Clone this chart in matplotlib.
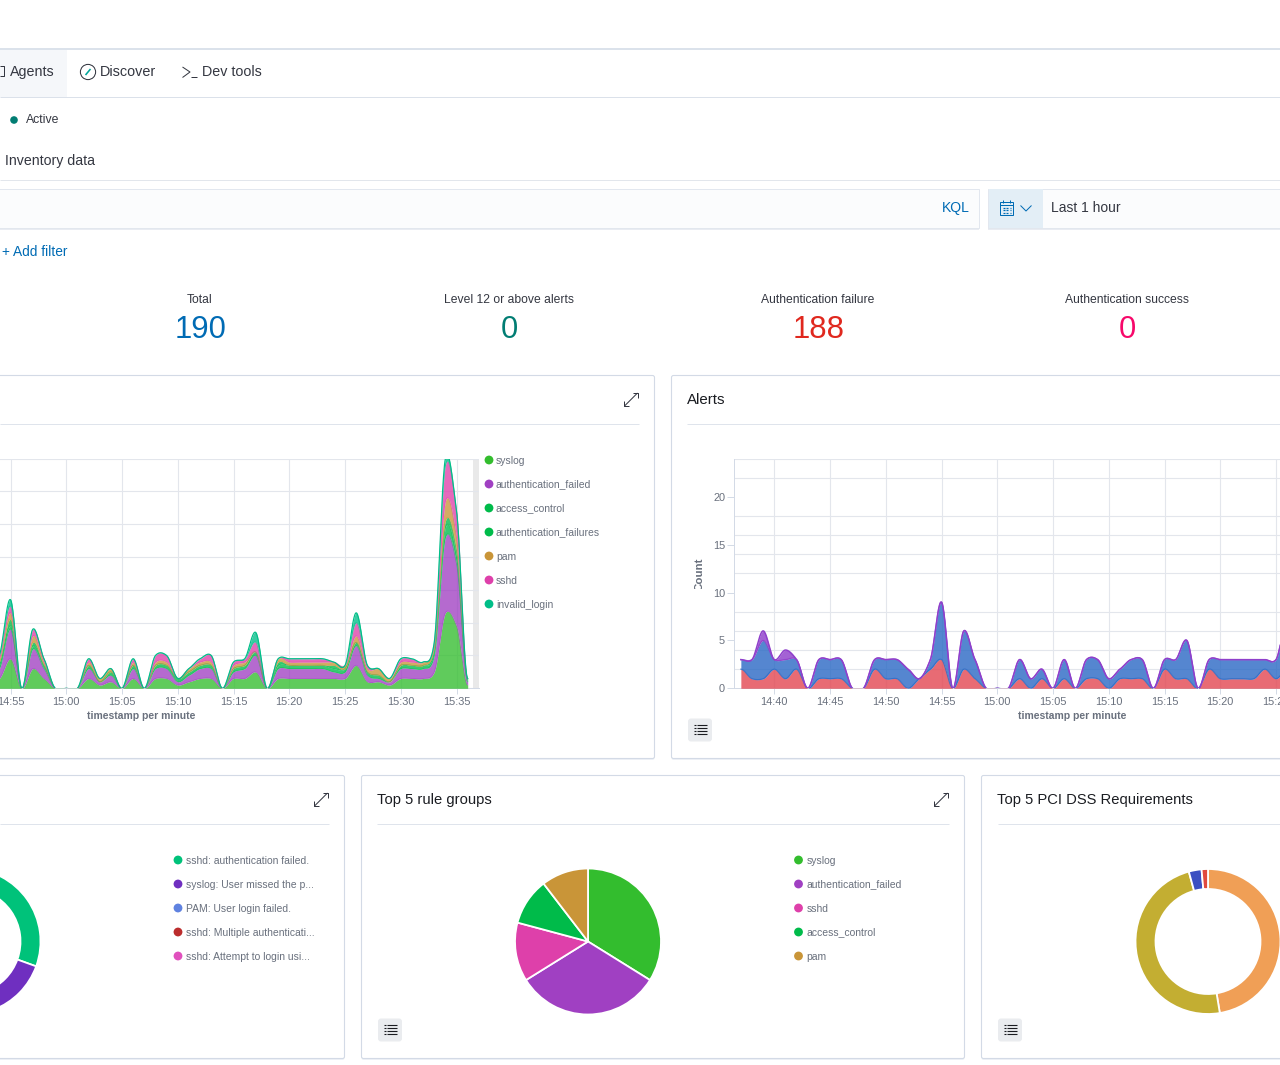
#!/usr/bin/env python3
import numpy as np
import matplotlib
matplotlib.use("Agg")
import matplotlib.pyplot as plt
from matplotlib.patches import Rectangle, Circle, FancyBboxPatch

plt.rcParams["font.family"] = ["Liberation Sans", "DejaVu Sans"]

W, H = 1280, 1065

# rule groups per minute, 14:53 .. 15:36
groups_min = list(range(-7, 37))
syslog = [1,3,9,0,6,3,0,0,0,3,1,2,0,3,0,3,3,1,2,3,3,0,3,3,5,0,3,3,3,3,3,3,3,7,2,2,1,3,3,3,5,23,19,1]
auth_failed = [1,3,9,0,6,3,0,0,0,3,1,2,0,3,0,3,3,1,2,3,3,0,2,3,5,0,3,3,3,3,3,2,2,6,2,1,1,3,3,3,5,23,19,1]
access_control = [1,1,1,0,1,1,0,0,0,1,0,1,0,1,0,1,1,1,1,1,1,0,1,1,1,0,1,1,1,1,1,1,1,1,1,1,0,1,1,1,1,3,2,1]
auth_failures = [0,1,2,0,1,0,0,0,0,0,0,0,0,0,0,0,0,0,0,0,0,0,0,0,0,0,1,0,0,0,0,1,0,0,0,0,0,0,0,0,1,2,2,0]
pam = [0,1,2,0,2,1,0,0,0,1,1,1,0,1,0,1,1,0,1,1,1,0,1,1,0,0,1,1,1,1,1,1,1,2,1,2,1,1,1,1,1,6,4,0]
sshd = [0,1,2,0,2,1,0,0,0,1,0,0,0,1,0,2,2,0,0,1,2,0,1,1,3,0,0,1,1,1,1,0,0,4,1,0,0,1,1,0,1,11,8,0]
invalid_login = [0,0,2,0,0,0,0,0,0,0,0,0,0,0,0,0,0,0,0,0,0,0,0,0,3,0,0,0,0,0,0,0,0,3,0,0,0,0,0,0,0,2,0,0]
group_names = ["syslog", "authentication_failed", "access_control", "authentication_failures",
               "pam", "sshd", "invalid_login"]
group_colors = ["#33bd2e", "#a040c2", "#00bb4a", "#00bb4a", "#c99538", "#de40aa", "#00be88"]

# alerts per minute, 14:37 .. 15:26
alerts_min = list(range(-23, 27))
alerts_red = [2,1,1,2,1,2,0,1,1,1,0,0,2,1,1,0,1,2,3,0,2,1,0,0,0,1,0,1,0,1,0,1,1,0,1,1,1,0,2,1,1,0,2,1,1,1,1,2,1,2]
alerts_blue = [1,2,4,1,2,1,0,2,2,2,0,0,1,2,2,2,0,1,6,0,4,2,0,0,0,2,1,1,0,2,0,2,2,1,1,2,2,0,1,2,4,0,1,2,2,2,2,1,2,5]
alerts_purple = [0,0,1,0,1,0,0,0,0,0,0,0,0,0,0,0,0,0,0,0,0,0,0,0,0,0,0,0,0,0,0,0,0,0,0,0,0,0,0,0,0,0,0,0,0,0,0,0,0,0]
alert_colors = ["#e34a55", "#2f6cc6", "#8f3fcb"]

tick_min = [-5, 0, 5, 10, 15, 20, 25, 30, 35]
tick_lab = ["14:55", "15:00", "15:05", "15:10", "15:15", "15:20", "15:25", "15:30", "15:35"]
tick_min_r = [-20, -15, -10, -5, 0, 5, 10, 15, 20, 25]
tick_lab_r = ["14:40", "14:45", "14:50", "14:55", "15:00", "15:05", "15:10", "15:15", "15:20", "15:25"]

rule_groups = [65, 62, 25, 20, 20]
rule_group_names = ["syslog", "authentication_failed", "sshd", "access_control", "pam"]
rule_group_colors = ["#33bd2e", "#a040c2", "#de40aa", "#00bb4a", "#c99538"]

top_rules = [58, 52, 40, 25, 15]
top_rule_names = ["sshd: authentication failed.", "syslog: User missed the p...", "PAM: User login failed.",
                  "sshd: Multiple authenticati...", "sshd: Attempt to login usi..."]
top_rule_colors = ["#00c27a", "#6f2fc0", "#5f82e0", "#bb2d2d", "#e050bd"]

pci_reqs = [100, 102, 6, 3]
pci_colors = ["#f09f56", "#c3ae32", "#3b4fc2", "#e04a3f"]

stat_labels = ["Total", "Level 12 or above alerts", "Authentication failure", "Authentication success"]
stat_values = ["190", "0", "188", "0"]
stat_colors = ["#006bb4", "#017d73", "#e0281e", "#f7086a"]
stat_x = [199.5, 508.5, 817.5, 1126.5]

BORDER = "#d3dae6"
TEXT = "#343741"
LINK = "#006bb4"
MUTED = "#69707d"
GRID = "#e3e6ec"

fig = plt.figure(figsize=(W / 100, H / 100), dpi=100, facecolor="white")
bg = fig.add_axes([0, 0, 1, 1], zorder=0)
bg.set_xlim(0, W)
bg.set_ylim(H, 0)
bg.axis("off")


def px_axes(x0, y0, x1, y1, zorder=2):
    ax = fig.add_axes([x0 / W, 1 - y1 / H, (x1 - x0) / W, (y1 - y0) / H], zorder=zorder)
    ax.patch.set_alpha(0)
    return ax


def label(x, y, s, size, color=TEXT, ha="left", weight="normal"):
    return bg.text(x, y + 0.34 * size - 0.5, s, fontsize=size * 0.72, color=color, ha=ha, va="baseline",
                   fontweight=weight)


def seg(xs, ys, color=TEXT, lw=1.0, z=3):
    bg.plot(xs, ys, color=color, lw=lw * 0.72, solid_capstyle="butt", zorder=z)


def rect(x0, y0, x1, y1, face, edge="none", z=1):
    bg.add_patch(Rectangle((x0, y0), x1 - x0, y1 - y0, facecolor=face, edgecolor=edge, lw=0.72, zorder=z))


def panel(x0, y0, x1, y1):
    bg.add_patch(FancyBboxPatch((x0, y0 + 1.5), x1 - x0, y1 - y0, boxstyle="round,pad=0,rounding_size=2",
                                facecolor="#eef1f6", edgecolor="none", zorder=1))
    bg.add_patch(FancyBboxPatch((x0, y0), x1 - x0, y1 - y0, boxstyle="round,pad=0,rounding_size=2",
                                facecolor="white", edgecolor=BORDER, lw=0.8, zorder=1))


def expand_icon(x, y):
    seg([x - 6.5, x + 6.5], [y + 6.5, y - 6.5])
    seg([x + 2, x + 7, x + 7], [y - 6.5, y - 6.5, y - 1.5])
    seg([x - 7, x - 7, x - 2], [y + 1.5, y + 6.5, y + 6.5])


def list_button(x, y):
    bg.add_patch(FancyBboxPatch((x, y), 24, 23, boxstyle="round,pad=0,rounding_size=3",
                                facecolor="#eaecef", edgecolor="none", zorder=2))
    for dy in (6.5, 9.5, 12.5, 15.5):
        seg([x + 6, x + 7.5], [y + dy, y + dy], "#1a1c21", 1.1)
        seg([x + 9, x + 18.5], [y + dy, y + dy], "#1a1c21", 1.1)


def legend(x_dot, x_text, names, colors, y0=860, step=24, size=10.4):
    for i, (n, c) in enumerate(zip(names, colors)):
        bg.add_patch(Circle((x_dot, y0 + i * step), 4.4, facecolor=c, edgecolor="none", zorder=3))
        label(x_text, y0 + i * step + 0.5, n, size, MUTED)


def smooth(x, y, a=0.38, n=24):
    # cardinal spline through the minute values, same as the dashboard's smoothed lines
    x = np.asarray(x, float)
    y = np.asarray(y, float)
    m = np.zeros_like(y)
    m[1:-1] = a * (y[2:] - y[:-2])
    t = np.linspace(0, 1, n, endpoint=False)
    h00 = 2 * t ** 3 - 3 * t ** 2 + 1
    h10 = t ** 3 - 2 * t ** 2 + t
    h01 = -2 * t ** 3 + 3 * t ** 2
    h11 = t ** 3 - t ** 2
    xs, ys = [], []
    for i in range(len(x) - 1):
        xs.append(x[i] + t * (x[i + 1] - x[i]))
        ys.append(h00 * y[i] + h10 * m[i] + h01 * y[i + 1] + h11 * m[i + 1])
    xs.append([x[-1]])
    ys.append([y[-1]])
    return np.concatenate(xs), np.concatenate(ys)


def stacked(ax, x, series, colors, alpha=0.78, lw=0.9, line_alpha=0.55, top_lw=1.5):
    base = np.zeros(len(x))
    low = None
    for i, (vals, c) in enumerate(zip(series, colors)):
        top = base + np.array(vals, float)
        xs, hi = smooth(x, top)
        if low is None:
            low = np.zeros_like(hi)
        ax.fill_between(xs, low, hi, color=c, alpha=alpha, lw=0, zorder=3)
        # the edge between two layers takes the colour of the layer above it
        last = i == len(series) - 1
        ax.plot(xs, hi, color=colors[min(i + 1, len(series) - 1)], lw=(top_lw if last else lw) * 0.72,
                alpha=1 if last else line_alpha, zorder=4)
        base, low = top, hi


def style_axis(ax):
    for s in ("top", "right"):
        ax.spines[s].set_visible(False)
    for s in ("left", "bottom"):
        ax.spines[s].set_color(BORDER)
        ax.spines[s].set_linewidth(0.72)
    ax.xaxis.grid(True, color=GRID, lw=0.8)
    ax.tick_params(axis="x", length=4, width=0.7, color=BORDER, labelsize=11 * 0.72,
                   labelcolor=MUTED, pad=2.6)


# top chrome
rect(-5, 47.5, W + 5, 50, "#dbe2eb")
rect(0, 50, 67, 96.5, "#f5f7fa")
seg([0, W], [96.7, 96.7], "#dbe1ea")
seg([0, W], [179.7, 179.7], "#e2e6ec")
seg([0, 4, 4, 0], [66, 66, 76, 76], TEXT, 1)
label(9.5, 71.5, "Agents", 14.2)
bg.add_patch(Circle((88, 72), 7.6, facecolor="white", edgecolor=TEXT, lw=0.75, zorder=3))
seg([85.5, 90.5], [75, 69], "#00a69b", 1.6, z=4)
label(100, 71.5, "Discover", 14.4)
seg([182.5, 190, 182.5], [67, 72, 77.5], TEXT, 1)
seg([191, 197], [77, 77], TEXT, 1)
label(202, 71.5, "Dev tools", 14.2)
bg.add_patch(Circle((14, 120), 3.8, facecolor="#017d73", edgecolor="none", zorder=3))
label(26, 119, "Active", 12.2)
label(5, 160.7, "Inventory data", 14.1)

# search bar and date picker
rect(-5, 188.7, 979, 227.7, "#fbfcfd", "#e2e7ef")
seg([0, 979], [228.7, 228.7], "#e3e7ee", 1.5)
label(970, 207.5, "KQL", 14, LINK, ha="right")
rect(988, 188.7, W + 5, 227.7, "#fbfcfd", "#e2e7ef")
seg([988, W], [228.7, 228.7], "#e3e7ee", 1.5)
rect(988.5, 189.2, 1042.5, 227.7, "#e3eef6")
rect(999.5, 201.5, 1013, 215, "none", LINK, z=3)
seg([999.5, 1013], [205, 205], LINK, 1)
for gx in (1003, 1006, 1009.5):
    for gy in (207.5, 210, 212.5):
        seg([gx, gx + 1.8], [gy, gy], LINK, 1.2)
seg([1002.5, 1002.5], [200, 202.5], LINK, 1)
seg([1010, 1010], [200, 202.5], LINK, 1)
seg([1020.5, 1026, 1031.5], [205.5, 211, 205.5], LINK, 1)
label(1051, 207.5, "Last 1 hour", 13.9)
label(2, 251.5, "+ Add filter", 13.8, LINK)

# stats row
for sx, lab, val, col in zip(stat_x, stat_labels, stat_values, stat_colors):
    label(sx + 0.3, 299, lab, 12.1, ha="center")
    label(sx + 1, 327.5, val, 31, col, ha="center")

# panels
panel(-10, 375.5, 654.5, 758.5)
panel(671.5, 375.5, W + 10, 758.5)
panel(-10, 775.5, 344.5, 1058.5)
panel(361.5, 775.5, 964.5, 1058.5)
panel(981.5, 775.5, W + 10, 1058.5)
seg([0, 639], [423.7, 423.7], "#dfe4ec", 1)
seg([687, W], [423.7, 423.7], "#dfe4ec", 1)
seg([0, 329], [823.7, 823.7], "#dfe4ec", 1)
seg([377, 949], [823.7, 823.7], "#dfe4ec", 1)
seg([997.5, W], [823.7, 823.7], "#dfe4ec", 1)
expand_icon(631, 399.5)
expand_icon(321, 799.5)
expand_icon(941, 799.5)
label(687, 399.2, "Alerts", 15, "#1a1c21")
label(377, 799.2, "Top 5 rule groups", 14.8, "#1a1c21")
label(997.3, 799.2, "Top 5 PCI DSS Requirements", 14.8, "#1a1c21")
list_button(688, 718.5)
list_button(378, 1018.5)
list_button(998, 1018.5)

# alert groups evolution
ax1 = px_axes(0, 458.6, 479, 688.3)
rect(472.7, 459, 479.3, 688.3, "#e9e9e9", z=1)
ax1.set_xlim((0 - 66.3) / 11.15, (479 - 66.3) / 11.15)
ax1.set_ylim(0, 70)
ax1.set_yticks(range(0, 71, 10))
ax1.set_yticklabels([])
ax1.tick_params(axis="y", length=0)
ax1.yaxis.grid(True, color=GRID, lw=0.8)
ax1.set_xticks(tick_min)
ax1.set_xticklabels(tick_lab)
style_axis(ax1)
ax1.spines["left"].set_visible(False)
ax1.set_axisbelow(True)
stacked(ax1, groups_min, [syslog, auth_failed, access_control, auth_failures, pam, sshd, invalid_login], group_colors,
        lw=0.8, line_alpha=0.45, top_lw=1.2)
label(141, 715.5, "timestamp per minute", 10.4, MUTED, ha="center", weight="bold")
legend(489, 496, group_names, group_colors, y0=460)

# alerts evolution
ax2 = px_axes(734.2, 458.6, 1280, 688.3)
ax2.set_xlim((734.2 - 997.3) / 11.15, (1280 - 997.3) / 11.15)
ax2.set_ylim(0, 24)
ax2.set_yticks(range(0, 21, 5))
ax2.set_yticks(range(0, 25, 2), minor=True)
ax2.set_xticks(tick_min_r)
ax2.set_xticklabels(tick_lab_r)
style_axis(ax2)
ax2.yaxis.grid(True, which="minor", color=GRID, lw=0.8)
ax2.tick_params(axis="y", which="minor", length=0)
ax2.tick_params(axis="y", which="major", length=4.7, width=0.7, color=BORDER, labelsize=11 * 0.72,
                labelcolor=MUTED, pad=1.8)
ax2.set_axisbelow(True)
stacked(ax2, alerts_min, [alerts_red, alerts_blue, alerts_purple], alert_colors, alpha=0.82, lw=1.2, line_alpha=0.8)
label(1072, 715.5, "timestamp per minute", 10.4, MUTED, ha="center", weight="bold")
count = bg.text(699.5, 574.5, "Count", fontsize=11.5 * 0.72, color=MUTED, fontweight="bold", rotation=90,
                ha="center", va="center")
count.set_clip_on(True)
count.set_clip_path(Rectangle((690, 558.5), 20, 30, transform=bg.transData))


def pie(cx, cy, r, values, colors, width=None):
    ax = px_axes(cx - r, cy - r, cx + r, cy + r)
    props = {"edgecolor": "white", "linewidth": 1.3}
    if width:
        props["width"] = width
    ax.pie(values, colors=colors, startangle=90, counterclock=False, radius=1, wedgeprops=props)
    ax.set_xlim(-1, 1)
    ax.set_ylim(-1, 1)


pie(-32.5, 941.5, 73, top_rules, top_rule_colors, width=20 / 73)
legend(178, 185.5, top_rule_names, top_rule_colors)
pie(588, 941.5, 73, rule_groups, rule_group_colors)
legend(798.5, 806.5, rule_group_names, rule_group_colors)
pie(1208, 941.5, 72.5, pci_reqs, pci_colors, width=20 / 72.5)

fig.savefig("out.png", dpi=100)
